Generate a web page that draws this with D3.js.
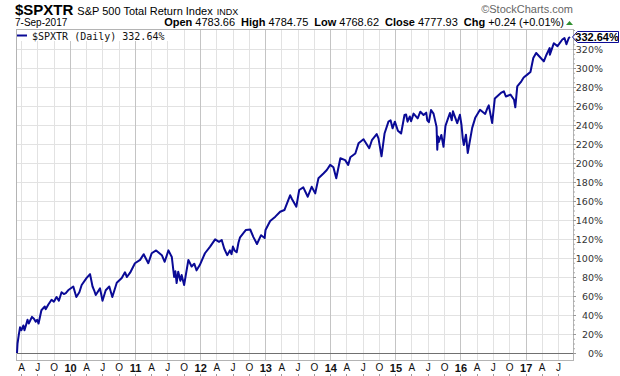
<!DOCTYPE html>
<html>
<head>
<meta charset="utf-8">
<script src="https://cdn.jsdelivr.net/npm/d3@7/dist/d3.min.js"></script>
<style>
  body { margin: 0; background: #fff; }
  svg text { font-family: "Liberation Sans", Arial, sans-serif; }
</style>
</head>
<body>
<div id="chart"></div>
<script>
// values: [date, % change since 9-Mar-2009]
var series2009 = [
  ["2009-03-09",0],["2009-03-12",10],["2009-03-19",19],["2009-03-26",27],["2009-04-03",24],["2009-04-14",29],
  ["2009-04-20",24],["2009-04-28",29],["2009-05-07",35],["2009-05-14",31],["2009-06-01",38],["2009-06-12",36],
  ["2009-06-22",33],["2009-06-30",35],["2009-07-08",31],["2009-07-24",45],["2009-08-12",49],["2009-08-17",46],
  ["2009-09-01",51],["2009-09-19",56],["2009-10-02",54],["2009-10-17",59],["2009-10-30",55],["2009-11-14",64],
  ["2009-11-27",62],["2009-12-08",63],["2009-12-21",66]
];
var series2010 = [
  ["2010-01-19",70],["2010-02-05",59],["2010-02-22",64],["2010-03-07",71.6],["2010-04-04",79],["2010-04-23",83],
  ["2010-05-07",70],["2010-05-16",66],["2010-05-25",61],["2010-06-18",68],["2010-07-02",55],["2010-07-20",66],
  ["2010-08-09",70],["2010-08-26",59],["2010-09-20",74],["2010-10-18",79],["2010-11-05",85],["2010-11-16",80],
  ["2010-12-04",84.5],["2010-12-31",94.5]
];
var series2011 = [
  ["2011-01-29",98],["2011-02-18",104],["2011-03-16",94.5],["2011-04-04",105],["2011-04-29",108],["2011-05-31",103],
  ["2011-06-16",96],["2011-07-07",108],["2011-07-26",101],["2011-08-08",80],["2011-08-15",86],["2011-08-22",73.6],
  ["2011-08-31",85.6],["2011-09-12",76],["2011-09-19",82],["2011-10-03",71.6],["2011-10-27",98],["2011-11-14",91],
  ["2011-11-29",94],["2011-12-12",87],["2011-12-30",92.6]
];
var series2012 = [
  ["2012-01-28",105],["2012-02-26",112],["2012-03-25",119.6],["2012-04-16",117],["2012-05-01",119],["2012-05-15",110],
  ["2012-06-01",103],["2012-06-16",108],["2012-06-25",104],["2012-07-03",112],["2012-07-12",108],["2012-07-24",106],
  ["2012-08-03",116],["2012-08-12",121.8],["2012-09-14",129.5],["2012-10-08",130],["2012-10-26",122],["2012-11-15",114.7],
  ["2012-12-08",124],["2012-12-28",121]
];
var series2013 = [
  ["2013-01-02",129.5],["2013-01-28",139],["2013-02-26",143.5],["2013-03-25",148.7],["2013-04-18",150.5],["2013-05-20",166],
  ["2013-05-31",161.8],["2013-06-24",154],["2013-07-10",171.6],["2013-08-02",174.4],["2013-08-27",164.5],["2013-09-18",175],
  ["2013-10-08",168],["2013-10-26",184],["2013-11-23",189],["2013-12-12",192.6],["2013-12-31",198]
];
var series2014 = [
  ["2014-01-18",195.5],["2014-02-03",184],["2014-02-26",205],["2014-03-25",203],["2014-04-11",198],["2014-04-23",206],
  ["2014-05-21",210],["2014-06-08",220.7],["2014-07-06",225],["2014-08-07",215.5],["2014-08-22",224],["2014-09-18",230.5],
  ["2014-09-28",226],["2014-10-15",207],["2014-11-01",231],["2014-11-23",243.5],["2014-12-05",245],["2014-12-16",236.5],
  ["2014-12-29",243.5]
];
var series2015 = [
  ["2015-01-15",234],["2015-02-02",231],["2015-02-21",250.5],["2015-03-02",251],["2015-03-10",243.5],["2015-03-23",249],
  ["2015-03-30",244],["2015-04-13",252],["2015-05-06",247],["2015-05-21",254],["2015-06-08",250.5],["2015-06-23",253],
  ["2015-06-29",245],["2015-07-08",243],["2015-07-20",255.8],["2015-08-03",252],["2015-08-20",238],["2015-08-24",214],
  ["2015-08-28",228],["2015-09-01",222],["2015-09-16",229.5],["2015-09-28",217],["2015-10-09",239],["2015-11-03",252.6],
  ["2015-11-13",245],["2015-11-20",254.4],["2015-12-14",242],["2015-12-29",250.8]
];
var series2016 = [
  ["2016-01-07",240],["2016-01-14",226],["2016-01-20",219],["2016-02-01",229.8],["2016-02-11",210.5],["2016-03-07",237],
  ["2016-03-25",248],["2016-04-20",256],["2016-05-19",251.6],["2016-06-01",258],["2016-06-08",260.7],["2016-06-27",242],
  ["2016-07-12",268],["2016-08-15",273.7],["2016-09-01",275.5],["2016-09-12",270],["2016-10-08",272],["2016-10-28",266.6],
  ["2016-11-04",258.6],["2016-11-15",280.7],["2016-12-08",286],["2016-12-21",290]
];
var series2017 = [
  ["2017-01-10",293],["2017-01-28",295.8],["2017-02-13",310.5],["2017-03-01",315.8],["2017-03-27",310.5],["2017-04-13",307],
  ["2017-04-28",314],["2017-05-16",321],["2017-05-17",314],["2017-06-08",326],["2017-06-29",323],["2017-07-26",330],
  ["2017-08-07",331.6],["2017-08-18",325],["2017-08-31",331.6],["2017-09-07",332.64]
];
var yTickValues = [0,20,40,60,80,100,120,140,160,180,200,220,240,260,280,300,320];
var monthLetters = ["A","J","O"];
var ohlcLabels = ["Open","High","Low","Close","Chg"];
var ohlcValues = ["4783.66","4784.75","4768.62","4777.93","+0.24 (+0.01%)"];
var lastValue = 332.64;

var svgWidth = 620, svgHeight = 376;
// plot frame
var frame = {left: 16, right: 573, top: 29, bottom: 360};

var parseDate = d3.timeParse("%Y-%m-%d");
var data = [].concat(series2009, series2010, series2011, series2012, series2013,
                     series2014, series2015, series2016, series2017)
  .map(function(d) { return {date: parseDate(d[0]), value: d[1]}; });

var svg = d3.select("#chart").append("svg")
  .attr("width", svgWidth)
  .attr("height", svgHeight);

var x = d3.scaleTime()
  .domain([parseDate("2009-03-09"), parseDate("2017-09-07")])
  .range([17, 570]);

var y = d3.scaleLinear()
  .domain([0, 320])
  .range([353, 49]);

// quarter gridlines
var quarters = d3.timeMonth.range(new Date(2009, 3, 1), new Date(2017, 7, 1), 3);

svg.append("g").selectAll("line")
  .data(yTickValues.filter(d => d > 0))
  .enter().append("line")
  .attr("x1", frame.left).attr("x2", frame.right)
  .attr("y1", d => Math.round(y(d)) + 0.5).attr("y2", d => Math.round(y(d)) + 0.5)
  .attr("stroke", "#e2e2e2");

svg.append("g").selectAll("line")
  .data(quarters)
  .enter().append("line")
  .attr("x1", d => Math.round(x(d)) + 0.5).attr("x2", d => Math.round(x(d)) + 0.5)
  .attr("y1", frame.top).attr("y2", frame.bottom)
  .attr("stroke", d => d.getMonth() === 0 ? "#c4c4c4" : "#e2e2e2");

// zero line
svg.append("line")
  .attr("x1", frame.left).attr("x2", frame.right)
  .attr("y1", Math.round(y(0)) + 0.5).attr("y2", Math.round(y(0)) + 0.5)
  .attr("stroke", "#707070");

// frame
svg.append("rect")
  .attr("x", frame.left + 0.5).attr("y", frame.top + 0.5)
  .attr("width", frame.right - frame.left).attr("height", frame.bottom - frame.top)
  .attr("fill", "none").attr("stroke", "#b4b4b4");

// price line
var line = d3.line()
  .x(d => x(d.date))
  .y(d => y(d.value));

svg.append("path")
  .datum(data)
  .attr("d", line)
  .attr("fill", "none")
  .attr("stroke", "#0a0a96")
  .attr("stroke-width", 2)
  .attr("stroke-linejoin", "round");

// bottom axis
var bottomAxis = d3.axisBottom(x)
  .tickValues(quarters)
  .tickSize(0)
  .tickPadding(4)
  .tickFormat(d => d.getMonth() === 0 ? d3.timeFormat("%y")(d) : monthLetters[d.getMonth() / 3 - 1]);

var xg = svg.append("g")
  .attr("transform", `translate(0, ${frame.bottom})`)
  .call(bottomAxis);
xg.select(".domain").remove();
xg.selectAll("text")
  .attr("fill", "#111")
  .style("font-size", d => d.getMonth() === 0 ? "11px" : "10px")
  .style("font-weight", d => d.getMonth() === 0 ? "bold" : "normal");

svg.append("g").selectAll("line")
  .data(quarters)
  .enter().append("line")
  .attr("x1", d => Math.round(x(d)) + 0.5).attr("x2", d => Math.round(x(d)) + 0.5)
  .attr("y1", 374).attr("y2", 376)
  .attr("stroke", "#999");

// right axis
var minorAxis = d3.axisRight(y)
  .tickValues(d3.range(0, 341, 5))
  .tickSize(2)
  .tickFormat("");
var mg = svg.append("g")
  .attr("transform", `translate(${frame.right}, 0)`)
  .call(minorAxis);
mg.select(".domain").remove();
mg.selectAll("line").attr("stroke", "#aaa");

var rightAxis = d3.axisRight(y)
  .tickValues(yTickValues)
  .tickSize(3)
  .tickFormat(d => d + "%");
var yg = svg.append("g")
  .attr("transform", `translate(${frame.right}, 0)`)
  .call(rightAxis);
yg.select(".domain").remove();
yg.selectAll("line").attr("stroke", "#999");
yg.selectAll("text")
  .attr("x", 30)
  .attr("text-anchor", "end")
  .attr("fill", "#333")
  .style("font-family", "'DejaVu Sans', sans-serif")
  .style("font-size", "9.5px");

// legend
svg.append("rect")
  .attr("x", frame.left + 1).attr("y", frame.top + 1)
  .attr("width", 153).attr("height", 11)
  .attr("fill", "#fff");
svg.append("line")
  .attr("x1", 17).attr("x2", 27)
  .attr("y1", 35.5).attr("y2", 35.5)
  .attr("stroke", "#0a0a96").attr("stroke-width", 2);
svg.append("text")
  .attr("x", 32).attr("y", 39.5)
  .style("font-family", "'DejaVu Sans Mono', monospace")
  .style("font-size", "10px")
  .attr("fill", "#111")
  .text("$SPXTR (Daily) " + lastValue.toFixed(2) + "%");

// last value tag
var ly = y(lastValue);
svg.append("path")
  .attr("d", `M${frame.right - 0.5},${ly} L${frame.right + 4.5},${ly - 5.5} H618.5 V${ly + 5.5} H${frame.right + 4.5} Z`)
  .attr("fill", "#fff")
  .attr("stroke", "#0a0a96");
svg.append("text")
  .attr("x", 597).attr("y", ly + 4)
  .attr("text-anchor", "middle")
  .style("font-size", "11px").style("font-weight", "bold")
  .attr("fill", "#000")
  .text(lastValue.toFixed(2) + "%");

// header
var title = svg.append("text").attr("x", 15).attr("y", 15).attr("fill", "#000");
title.append("tspan").style("font-size", "15px").style("font-weight", "bold").text("$SPXTR");
title.append("tspan").attr("dx", 4).style("font-size", "11px").text("S&P 500 Total Return Index");
title.append("tspan").attr("dx", 4).style("font-size", "9px").text("INDX");

svg.append("text")
  .attr("x", 15).attr("y", 26)
  .style("font-size", "10px")
  .attr("fill", "#000")
  .text("7-Sep-2017");

svg.append("text")
  .attr("x", 573).attr("y", 13)
  .attr("text-anchor", "end")
  .style("font-size", "11px")
  .attr("fill", "#666")
  .text("\u00a9StockCharts.com");

var ohlc = svg.append("text")
  .attr("x", 564).attr("y", 26)
  .attr("text-anchor", "end")
  .style("font-size", "11px")
  .attr("fill", "#000");
ohlcLabels.forEach(function(lab, i) {
  ohlc.append("tspan").attr("dx", i ? 6 : 0).style("font-weight", "bold").text(lab);
  ohlc.append("tspan").attr("dx", 3).text(ohlcValues[i]);
});

svg.append("path")
  .attr("d", "M566,25 L573,25 L569.5,21 Z")
  .attr("fill", "#2f8f2f");
</script>
</body>
</html>
